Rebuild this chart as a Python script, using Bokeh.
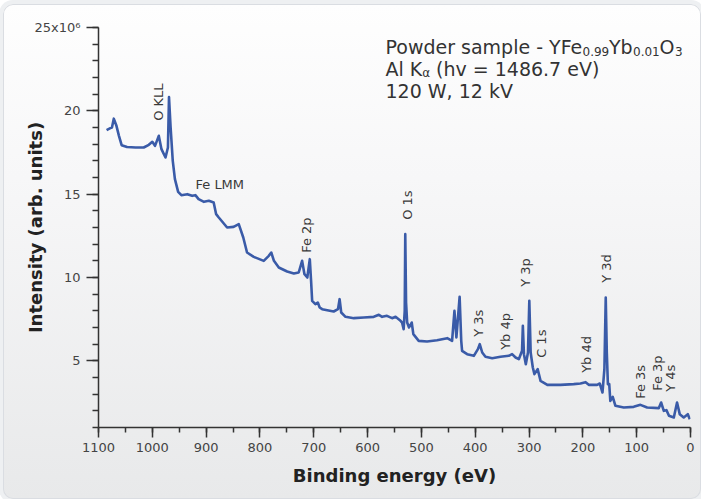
from math import pi
from bokeh.plotting import figure
from bokeh.models import Range1d, SingleIntervalTicker, Label, LabelSet, ColumnDataSource
from bokeh.core.properties import value
from bokeh.embed import file_html
from bokeh.resources import INLINE

# ---- data (binding energy in eV, intensity in 10^6 counts) ----
binding_energy_ev = [
    1085, 1078, 1075, 1071.6, 1067, 1062, 1057, 1047, 1031, 1016, 1006.5, 1000, 995, 988, 983,
    975.5, 971, 969, 966, 962, 958, 952, 946, 935, 926, 920, 914, 904, 895, 886, 881.4, 876.5,
    861, 849, 839.4, 831, 824, 811.5, 793, 783.6, 779, 774, 765, 749.5, 737, 728, 721.7, 717.3,
    712, 707.4, 705, 703, 697, 692.5, 689, 684.4, 675, 663, 655, 652, 649, 641, 625.6, 607,
    588.5, 579, 573, 564, 554.5, 548, 540, 536, 533, 531, 530, 528.5, 526.5, 523, 518, 515,
    505, 489.5, 471, 452, 443, 438.6, 435, 429, 426, 424.4, 415, 402.6, 395, 391.6, 387, 381,
    368.5, 353, 337.6, 331.5, 325, 319, 313, 311.5, 309.5, 306, 302, 299.5, 297, 293, 290, 284,
    278.6, 266, 241.6, 217, 204.5, 195, 189, 173.5, 168.6, 163.5, 160, 157.5, 155.5, 153.5,
    151, 149, 144.5, 139.5, 124, 105.6, 93, 80.6, 59, 54.6, 49.6, 44.6, 40, 31, 25, 20, 12.6,
    5, 1.3,
]
intensity_million = [
    18.84, 18.96, 19.0, 19.53, 19.14, 18.5, 17.94, 17.83, 17.8, 17.8, 17.96, 18.14, 17.9, 18.5, 17.7,
    17.2, 17.8, 20.83, 19.0, 17.0, 15.9, 15.14, 14.94, 15.0, 14.9, 14.94, 14.7, 14.54, 14.6, 14.5, 13.8, 13.6,
    13.0, 13.04, 13.2, 12.4, 11.5, 11.24, 11.0, 11.3, 11.5, 11.0, 10.6, 10.36, 10.24, 10.3, 11.0, 10.2,
    10.0, 11.1, 9.8, 8.6, 8.4, 8.5, 8.2, 8.1, 8.04, 7.96, 8.1, 8.7, 7.9, 7.64, 7.56, 7.6,
    7.64, 7.76, 7.64, 7.7, 7.56, 7.64, 7.44, 7.3, 6.9, 8.0, 12.6, 8.5, 7.3, 7.0, 7.3, 6.6,
    6.2, 6.16, 6.24, 6.36, 6.2, 8.0, 6.4, 8.84, 6.2, 5.6, 5.4, 5.3, 5.7, 6.0, 5.5, 5.24,
    5.16, 5.24, 5.3, 5.4, 5.2, 5.1, 5.6, 7.1, 5.4, 4.8, 5.5, 8.6, 5.5, 4.6, 4.2, 4.5,
    3.8, 3.56, 3.56, 3.6, 3.64, 3.72, 3.56, 3.56, 3.64, 3.1, 4.5, 8.8, 5.5, 3.6,
    3.6, 2.6, 2.84, 2.3, 2.2, 2.24, 2.36, 2.2, 2.16, 2.5, 2.0, 2.04, 1.7, 1.6, 2.5, 1.8, 1.6,
    1.8, 1.5,
]

peak_names = ["O KLL", "Fe 2p", "O 1s", "Y 3s", "Yb 4p", "Y 3p", "C 1s", "Yb 4d", "Y 3d",
              "Fe 3s", "Fe 3p", "Y 4s"]
peak_label_ev = [988.5, 712.6, 525, 394, 343.8, 306.6, 277, 193.3, 156, 93, 60.4, 37.4]
peak_label_y = [19.4, 11.48, 13.46, 6.44, 5.66, 9.44, 5.18, 4.28, 9.68, 2.72, 3.2, 3.14]

auger_name = "Fe LMM"
auger_ev = 919.8
auger_y = 15.13

y_ticks = [5, 10, 15, 20, 25]
y_tick_labels = ["5", "10", "15", "20", "25x10\u2076"]

FONT = "DejaVu Sans"
TXT = "#3a3a3a"

p = figure(width=698, height=495, output_backend="svg", toolbar_location=None,
           x_range=Range1d(1100, 0), y_range=Range1d(1, 25),
           min_border_left=95, min_border_right=11, min_border_top=23, min_border_bottom=72)
p.outline_line_color = None
p.grid.visible = False
p.background_fill_alpha = 0
p.border_fill_alpha = 0
p.styles = {
    "background": "linear-gradient(to bottom, #fefefe 0%, #f7f7f8 35%, #e8e9ea 100%)",
    "border-radius": "10px",
    "margin": "4px 0 0 3px",
    "box-shadow": "inset 0 0 0 1px #dadde2, 0 0 0 4px #eef0f2",
}

p.line(binding_energy_ev, intensity_million, line_color="#3a5ba8", line_width=2.6,
       line_join="round")

# axes
xa = p.xaxis[0]
xa.ticker = SingleIntervalTicker(interval=100, num_minor_ticks=2)
xa.major_tick_in = 0
xa.major_tick_out = 10
xa.minor_tick_in = 0
xa.minor_tick_out = 5
xa.major_label_standoff = 5
xa.axis_label = "Binding energy (eV)"
xa.axis_label_standoff = 10

ya = p.yaxis[0]
ya.ticker = SingleIntervalTicker(interval=5, num_minor_ticks=5)
ya.major_label_overrides = dict(zip(y_ticks, y_tick_labels))
ya.major_tick_in = 0
ya.major_tick_out = 12
ya.minor_tick_in = 0
ya.minor_tick_out = 6
ya.major_label_standoff = 6
ya.axis_label = "Intensity (arb. units)"
ya.axis_label_standoff = -14

for ax in (xa, ya):
    ax.axis_line_color = "#333333"
    ax.axis_line_width = 1.5
    ax.major_tick_line_color = "#333333"
    ax.major_tick_line_width = 1.5
    ax.minor_tick_line_color = "#333333"
    ax.minor_tick_line_width = 1.5
    ax.major_label_text_font = FONT
    ax.major_label_text_font_size = "13px"
    ax.major_label_text_color = "#444444"
    ax.axis_label_text_font = FONT
    ax.axis_label_text_font_style = "bold"
    ax.axis_label_text_font_size = "18px"
    ax.axis_label_text_color = "#222222"

# peak labels
src = ColumnDataSource(dict(x=peak_label_ev, y=peak_label_y, text=peak_names))
p.add_layout(LabelSet(x="x", y="y", text="text", source=src, angle=pi / 2,
                      text_align="left", text_baseline="middle",
                      text_font=value(FONT), text_font_size=value("13px"),
                      text_color=value(TXT)))
p.add_layout(Label(x=auger_ev, y=auger_y, text=auger_name, text_font=FONT,
                   text_font_size="13px", text_color=TXT))

# info block (top right)
ax0, ay0 = 566.7, 23.83
pieces = [
    ("Powder sample - YFe", 0, 0, "19px"),
    ("0.99", 197.0, -4, "12px"),
    ("Yb", 223.5, 0, "19px"),
    ("0.01", 247.5, -4, "12px"),
    ("O", 274.0, 0, "19px"),
    ("3", 289.5, -4, "12px"),
    ("Al K", 0, -22, "19px"),
    ("\u03b1", 36.8, -26, "12px"),
    ("(hv = 1486.7 eV)", 50.5, -22, "19px"),
    ("120 W, 12 kV", 0, -44, "19px"),
]
for txt, dx, dy, fs in pieces:
    p.add_layout(Label(x=ax0, y=ay0, x_offset=dx, y_offset=dy, text=txt, text_font=FONT,
                       text_font_size=fs, text_color="#333333",
                       text_baseline="alphabetic", text_align="left"))

open("out.html", "w").write(file_html(p, INLINE))
